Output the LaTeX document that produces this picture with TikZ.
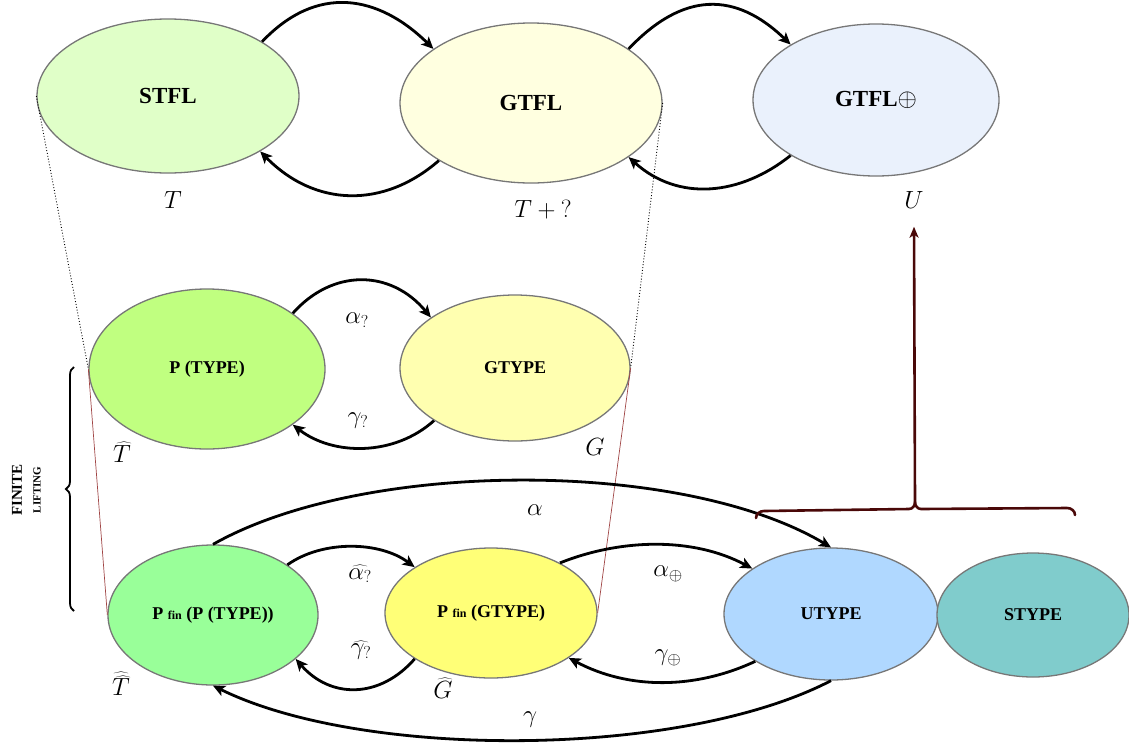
\documentclass[tikz,border=0pt]{standalone}
\usepackage{fontspec}
\setmainfont{Liberation Serif}
\usetikzlibrary{shapes.geometric,arrows.meta,decorations.pathreplacing}
\definecolor{cstfl}{HTML}{E0FFC8}
\definecolor{cgtfl}{HTML}{FFFFE0}
\definecolor{cgtflp}{HTML}{EAF1FC}
\definecolor{cptype}{HTML}{C0FF80}
\definecolor{cgtype}{HTML}{FFFFB0}
\definecolor{cpfp}{HTML}{99FF99}
\definecolor{cpfg}{HTML}{FFFF77}
\definecolor{cutype}{HTML}{B0D8FF}
\definecolor{cstype}{HTML}{80CCCC}
\definecolor{bord}{HTML}{777777}
\definecolor{brkc}{HTML}{4A0808}
\definecolor{thinred}{HTML}{A04545}
\begin{document}
\begin{tikzpicture}[x=1pt,y=-1pt,
  el/.style={ellipse,draw=bord,line width=1.3pt,inner sep=0pt,font=\bfseries},
  big/.style={font=\fontsize{23}{26}\selectfont\bfseries},
  mid/.style={font=\fontsize{18}{21}\selectfont\bfseries},
  arr/.style={line width=2.8pt,-{Stealth[length=12pt,width=11pt,inset=3pt]}},
  lab/.style={font=\fontsize{24}{28}\selectfont,inner sep=0pt},
  slab/.style={font=\fontsize{23}{27}\selectfont,inner sep=0pt},
  dotl/.style={dotted,line width=0.9pt,black},
  redl/.style={thinred,line width=0.7pt},
  brk/.style={brkc,line width=2.6pt}]
\useasboundingbox (0,0) rectangle (1129,742);
% top row
\node[el,big,fill=cstfl,minimum width=262pt,minimum height=154pt] (stfl) at (168,96) {STFL};
\node[el,big,fill=cgtfl,minimum width=262pt,minimum height=160pt] (gtfl) at (531,103) {GTFL};
\node[el,big,fill=cgtflp,minimum width=246pt,minimum height=152pt] (gtflp) at (876,100) {GTFL$\oplus$};
% middle row
\node[el,mid,fill=cptype,minimum width=236pt,minimum height=160pt] (ptype) at (207,369) {P (TYPE)};
\node[el,mid,fill=cgtype,minimum width=230pt,minimum height=146pt] (gtype) at (515,368) {GTYPE};
% bottom row
\node[el,mid,fill=cpfp,minimum width=210pt,minimum height=140pt] (pfp) at (213,615) {P {\fontsize{12}{14}\selectfont fin} (P (TYPE))};
\node[el,mid,fill=cpfg,minimum width=212pt,minimum height=130pt] (pfg) at (491,613) {P {\fontsize{12}{14}\selectfont fin} (GTYPE)};
\node[el,mid,fill=cutype,minimum width=214pt,minimum height=132pt] (utype) at (831,614) {UTYPE};
\node[el,mid,fill=cstype,minimum width=192pt,minimum height=124pt] (stype) at (1033,615) {STYPE};
% labels
\node[lab] (tl) at (173,200) {$T$};
\node[lab] (tql) at (543,210) {$T+{?}$};
\node[lab] (ul) at (914,200) {$U$};
\node[slab] (aq) at (357,320) {$\alpha_?$};
\node[slab] (gq) at (358,421) {$\gamma_?$};
\node[lab] (th) at (122,452) {$\widehat{T}$};
\node[lab] (gl) at (595,447) {$G$};
\node[slab] (al) at (535,510) {$\alpha$};
\node[slab] (ahq) at (360,574) {$\widehat{\alpha_?}$};
\node[slab] (ghq) at (361,650) {$\widehat{\gamma_?}$};
\node[slab] (ap) at (668,574) {$\alpha_\oplus$};
\node[slab] (gp) at (668,658) {$\gamma_\oplus$};
\node[slab] (thh) at (121,684) {$\widehat{\widehat{T}}$};
\node[slab] (gh) at (443,688) {$\widehat{G}$};
\node[slab] (gml) at (530,720) {$\gamma$};
% dotted and thin red lines
\draw[dotl] (stfl.west) -- (ptype.west);
\draw[dotl] (gtfl.east) -- (gtype.east);
\draw[redl] (ptype.west) -- (pfp.west);
\draw[redl] (gtype.east) -- (pfg.east);
% top arrows
\draw[arr] (stfl.30) .. controls +(55,-58) and +(-55,-54) .. (gtfl.151);
\draw[arr] (gtfl.212) .. controls +(-55,48) and +(55,56) .. (stfl.329);
\draw[arr] (gtfl.29) .. controls +(55,-58) and +(-55,-53) .. (gtflp.147);
\draw[arr] (gtflp.213) .. controls +(-50,40) and +(50,45) .. (gtfl.331);
% middle arrows
\draw[arr] (ptype.33) .. controls +(40,-45) and +(-40,-48) .. (gtype.149);
\draw[arr] (gtype.213) .. controls +(-40,36) and +(40,31) .. (ptype.327);
% bottom arrows
\draw[arr] (pfp.34) .. controls +(35,-25) and +(-35,-26) .. (pfg.149);
\draw[arr] (pfg.211) .. controls +(-35,40) and +(35,40) .. (pfp.332);
\draw[arr] (pfg.36) .. controls +(60,-24) and +(-60,-32) .. (utype.150);
\draw[arr] (utype.212) .. controls +(-60,28) and +(60,32) .. (pfg.330);
\draw[arr] (pfp.north) .. controls +(150,-85) and +(-150,-89) .. (utype.north);
\draw[arr] (utype.south) .. controls +(-150,78) and +(150,74) .. (pfp.south);
% right bracket and arrow to U
\coordinate (bt) at (915,502);
\draw[brk,line cap=round] (756,518) to[out=90,in=180] (764,511) -- (909,509) to[out=0,in=-90] (bt);
\draw[brk,line cap=round] (1075,515) to[out=90,in=0] (1067,508) -- (921,509) to[out=180,in=-90] (bt);
\draw[brk,-{Stealth[length=11pt,width=9pt,inset=3pt]}] (bt) -- ([yshift=-18pt]ul.south);
% left brace
\draw[line width=1.8pt,decorate,decoration={brace,amplitude=8pt}] (74,611) -- (74,367);
\node[rotate=90,font=\fontsize{15}{17}\selectfont\bfseries,inner sep=0pt] (fin) at (17,490) {FINITE};
\node[rotate=90,font=\fontsize{11}{13}\selectfont\bfseries,inner sep=0pt] (lift) at (37,490) {LIFTING};
\end{tikzpicture}
\end{document}
